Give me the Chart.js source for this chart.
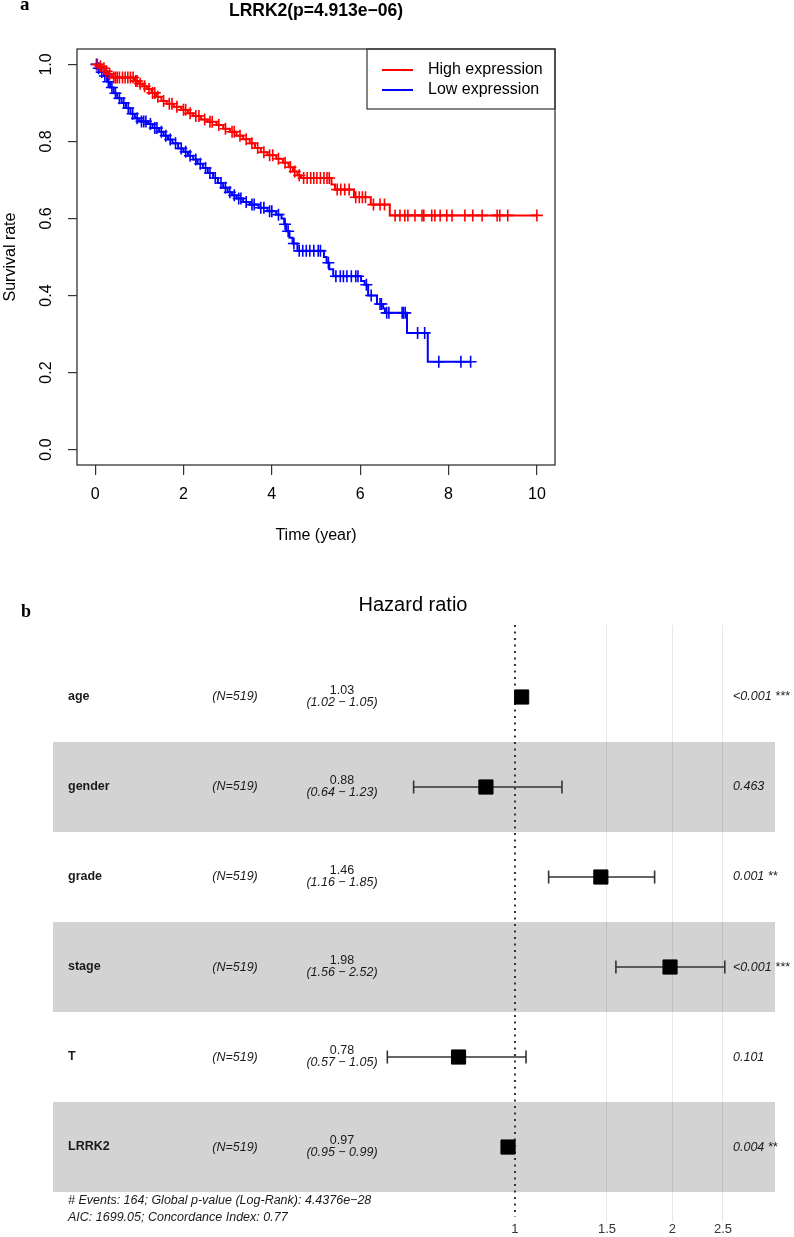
<!DOCTYPE html>
<html>
<head>
<meta charset="utf-8">
<script src="https://cdn.jsdelivr.net/npm/chart.js@4.4.1/dist/chart.umd.min.js"></script>
<style>
body { margin: 0; background: #fff; }
#km { position: absolute; left: 0; top: 0; }
#forest { position: absolute; left: 0; top: 590px; }
</style>
</head>
<body>
<canvas id="km" width="794" height="590"></canvas>
<canvas id="forest" width="794" height="647"></canvas>
<script>
/* panel a: Kaplan-Meier steps (time, survival after the drop) */
const highTime = [0, 0.08, 0.15, 0.22, 0.3, 0.38, 0.88, 0.98, 1.08, 1.18, 1.28, 1.38, 1.5, 1.62, 1.78, 1.95, 2.1, 2.22, 2.4, 2.55, 2.75, 2.9, 3.05, 3.2, 3.35, 3.5, 3.62, 3.75, 3.9, 4.1, 4.25, 4.38, 4.48, 4.58, 4.66, 5.35, 5.43, 5.86, 6.24, 6.67, 10.0]
const highSurv = [1, 0.995, 0.99, 0.982, 0.975, 0.966, 0.957, 0.95, 0.943, 0.936, 0.926, 0.916, 0.905, 0.898, 0.89, 0.882, 0.873, 0.866, 0.857, 0.851, 0.843, 0.833, 0.825, 0.815, 0.806, 0.795, 0.783, 0.772, 0.764, 0.755, 0.745, 0.733, 0.722, 0.712, 0.705, 0.688, 0.675, 0.655, 0.636, 0.608, 0.608]
const highCensor = [0.05, 0.12, 0.2, 0.26, 0.33, 0.42, 0.46, 0.5, 0.55, 0.62, 0.68, 0.74, 0.8, 0.86, 0.92, 0.95, 1.02, 1.12, 1.22, 1.3, 1.35, 1.42, 1.55, 1.68, 1.74, 1.85, 2.0, 2.05, 2.15, 2.28, 2.35, 2.48, 2.6, 2.65, 2.8, 2.95, 3.1, 3.15, 3.28, 3.42, 3.55, 3.68, 3.82, 3.95, 4.02, 4.15, 4.3, 4.42, 4.52, 4.62, 4.72, 4.8, 4.88, 4.95, 5.02, 5.1, 5.18, 5.25, 5.3, 5.48, 5.56, 5.65, 5.75, 5.9, 5.98, 6.05, 6.12, 6.3, 6.45, 6.55, 6.79, 6.9, 7.01, 7.08, 7.24, 7.4, 7.44, 7.62, 7.69, 7.81, 7.96, 8.08, 8.37, 8.55, 8.76, 9.1, 9.16, 9.34, 10.0]

const lowTime = [0, 0.05, 0.12, 0.2, 0.27, 0.34, 0.42, 0.5, 0.6, 0.7, 0.8, 0.9, 1.0, 1.2, 1.3, 1.45, 1.55, 1.65, 1.75, 1.88, 2.0, 2.1, 2.22, 2.32, 2.44, 2.55, 2.67, 2.78, 2.9, 3.0, 3.1, 3.2, 3.35, 3.5, 3.7, 3.9, 4.1, 4.22, 4.28, 4.33, 4.4, 4.47, 4.58, 5.18, 5.24, 5.3, 5.39, 6.02, 6.1, 6.18, 6.38, 6.52, 6.56, 7.06, 7.53, 8.5]
const lowSurv = [1, 0.99, 0.98, 0.97, 0.955, 0.94, 0.925, 0.912, 0.9, 0.887, 0.872, 0.86, 0.852, 0.845, 0.835, 0.825, 0.815, 0.805, 0.795, 0.782, 0.773, 0.763, 0.753, 0.742, 0.731, 0.718, 0.705, 0.692, 0.68, 0.668, 0.66, 0.652, 0.643, 0.636, 0.628, 0.619, 0.61, 0.6, 0.585, 0.567, 0.55, 0.535, 0.516, 0.5, 0.485, 0.468, 0.45, 0.438, 0.428, 0.4, 0.378, 0.366, 0.355, 0.303, 0.228, 0.228]
const lowCensor = [0.03, 0.08, 0.15, 0.22, 0.3, 0.38, 0.46, 0.55, 0.65, 0.75, 0.85, 0.95, 1.05, 1.1, 1.15, 1.25, 1.35, 1.4, 1.5, 1.6, 1.7, 1.82, 1.95, 2.05, 2.15, 2.28, 2.38, 2.5, 2.6, 2.72, 2.85, 2.95, 3.05, 3.15, 3.25, 3.3, 3.42, 3.55, 3.6, 3.75, 3.82, 3.95, 4.0, 4.15, 4.3, 4.37, 4.5, 4.62, 4.7, 4.78, 4.86, 4.95, 5.05, 5.1, 5.28, 5.45, 5.55, 5.62, 5.7, 5.8, 5.9, 5.95, 6.14, 6.25, 6.45, 6.48, 6.6, 6.65, 6.95, 6.98, 7.02, 7.3, 7.46, 7.78, 8.28, 8.5]

const kmXTicks = [0, 2, 4, 6, 8, 10]
const kmYTicks = [0, 0.2, 0.4, 0.6, 0.8, 1.0]

/* panel b: cox model */
const variables = ['age', 'gender', 'grade', 'stage', 'T', 'LRRK2']
const nPatients = [519, 519, 519, 519, 519, 519]
const hazard = [1.03, 0.88, 1.46, 1.98, 0.78, 0.97]
const ciLow = [1.02, 0.64, 1.16, 1.56, 0.57, 0.95]
const ciHigh = [1.05, 1.23, 1.85, 2.52, 1.05, 0.99]
const pLabels = ['<0.001 ***', '0.463', '0.001 **', '<0.001 ***', '0.101', '0.004 **']
const hrTicks = [1, 1.5, 2, 2.5]

const SANS = '"Liberation Sans", Arial, sans-serif'
Chart.defaults.font.family = SANS
Chart.defaults.color = '#000'

// survival value of the step curve at time t (for the censor marks)
const survAt = (times, surv, t) => {
    let s = surv[0]
    for (let i = 0; i < times.length; i++) {
        if (times[i] <= t) s = surv[i]
    }
    return s
}

const kmDecor = {
    id: 'kmDecor',
    afterDraw(chart) {
        const { ctx, chartArea: a, scales } = chart
        ctx.save()
        ctx.strokeStyle = '#333'
        ctx.lineWidth = 1.3
        ctx.strokeRect(a.left, a.top, a.right - a.left, a.bottom - a.top)

        // y tick labels, rotated like base R
        ctx.fillStyle = '#000'
        ctx.font = '16px ' + SANS
        ctx.textAlign = 'center'
        ctx.textBaseline = 'middle'
        scales.y.ticks.forEach(t => {
            const y = scales.y.getPixelForValue(t.value)
            ctx.save()
            ctx.translate(47, y)
            ctx.rotate(-Math.PI / 2)
            ctx.fillText(t.value.toFixed(1), 0, 0)
            ctx.restore()
        })
        ctx.save()
        ctx.translate(11, (a.top + a.bottom) / 2)
        ctx.rotate(-Math.PI / 2)
        ctx.fillText('Survival rate', 0, 0)
        ctx.restore()
        ctx.fillText('Time (year)', (a.left + a.right) / 2, 536)

        ctx.font = 'bold 17.5px ' + SANS
        ctx.textBaseline = 'alphabetic'
        ctx.fillText('LRRK2(p=4.913e\u221206)', (a.left + a.right) / 2, 15.5)

        ctx.font = 'bold 19px "Liberation Serif", "DejaVu Serif", serif'
        ctx.textAlign = 'left'
        ctx.fillText('a', 20, 10)

        // legend, top right inside the box
        const lw = 188, lh = 60
        const lx = a.right - lw, ly = a.top
        ctx.strokeStyle = '#333'
        ctx.lineWidth = 1.2
        ctx.strokeRect(lx, ly, lw, lh)
        ctx.font = '16px ' + SANS
        ctx.textBaseline = 'middle'
        chart.data.datasets.filter(d => d.label).forEach((d, i) => {
            const y = ly + 21 + i * 20
            ctx.strokeStyle = d.borderColor
            ctx.lineWidth = 2
            ctx.beginPath()
            ctx.moveTo(lx + 15, y)
            ctx.lineTo(lx + 46, y)
            ctx.stroke()
            ctx.fillText(d.label, lx + 61, y)
        })
        ctx.restore()
    }
}

const stepSet = (label, times, surv, color) => ({
    label,
    data: times.map((t, i) => ({ x: t, y: surv[i] })),
    showLine: true,
    stepped: true,
    borderColor: color,
    borderWidth: 2,
    pointRadius: 0
})
const censorSet = (cens, times, surv, color) => ({
    label: '',
    data: cens.map(t => ({ x: t, y: survAt(times, surv, t) })),
    showLine: false,
    pointStyle: 'cross',
    pointRadius: 6,
    pointBorderWidth: 1.6,
    borderColor: color,
    backgroundColor: color
})

const renderKM = () => {
    new Chart('km', {
        type: 'scatter',
        data: {
            datasets: [
                stepSet('High expression', highTime, highSurv, '#ff0000'),
                censorSet(highCensor, highTime, highSurv, '#ff0000'),
                stepSet('Low expression', lowTime, lowSurv, '#0000ff'),
                censorSet(lowCensor, lowTime, lowSurv, '#0000ff')
            ]
        },
        options: {
            responsive: false,
            devicePixelRatio: 1,
            animation: false,
            layout: { padding: { top: 49, right: 239, left: 0, bottom: 0 } },
            plugins: { legend: { display: false }, tooltip: { enabled: false } },
            scales: {
                x: {
                    type: 'linear', min: -0.41, max: 10.41,
                    afterBuildTicks: s => { s.ticks = kmXTicks.map(v => ({ value: v })) },
                    afterFit: s => { s.height = 125 },
                    grid: { drawOnChartArea: false, tickLength: 10, color: '#333', lineWidth: 1.2 },
                    border: { display: false },
                    ticks: { font: { size: 16 }, color: '#000', padding: 10, maxRotation: 0, autoSkip: false }
                },
                y: {
                    type: 'linear', min: -0.04, max: 1.04,
                    afterBuildTicks: s => { s.ticks = kmYTicks.map(v => ({ value: v })) },
                    afterFit: s => { s.width = 77 },
                    grid: { drawOnChartArea: false, tickLength: 9, color: '#333', lineWidth: 1.2 },
                    border: { display: false },
                    ticks: { display: false }
                }
            }
        },
        plugins: [kmDecor]
    })
}

const forestDecor = {
    id: 'forestDecor',
    beforeDraw(chart) {
        const { ctx, chartArea: a, scales } = chart
        ctx.save()
        ctx.fillStyle = '#d3d3d3'
        variables.forEach((v, i) => {
            if (i % 2 === 1) {
                const y0 = scales.y.getPixelForValue(i - 0.5)
                const y1 = scales.y.getPixelForValue(i + 0.5)
                ctx.fillRect(a.left, y0, a.right - a.left, y1 - y0)
            }
        })
        ctx.restore()
    },
    beforeDatasetsDraw(chart) {
        const { ctx, chartArea: a, scales } = chart
        const x = scales.x.getPixelForValue(1)
        ctx.save()
        ctx.strokeStyle = '#333'
        ctx.lineWidth = 2
        ctx.setLineDash([2, 4.5])
        ctx.beginPath()
        ctx.moveTo(x, a.top)
        ctx.lineTo(x, a.bottom - 5)
        ctx.stroke()
        ctx.restore()
    },
    afterDraw(chart) {
        const { ctx, scales } = chart
        ctx.save()
        ctx.fillStyle = '#1a1a1a'
        ctx.textBaseline = 'middle'
        variables.forEach((v, i) => {
            const y = scales.y.getPixelForValue(i)
            ctx.textAlign = 'left'
            ctx.font = 'bold 12.5px ' + SANS
            ctx.fillText(v, 68, y)
            ctx.font = 'italic 12.5px ' + SANS
            ctx.textAlign = 'center'
            ctx.fillText('(N=' + nPatients[i] + ')', 235, y)
            ctx.font = '12.5px ' + SANS
            ctx.fillText(hazard[i].toFixed(2), 342, y - 6)
            ctx.font = 'italic 12.5px ' + SANS
            ctx.fillText('(' + ciLow[i].toFixed(2) + ' \u2212 ' + ciHigh[i].toFixed(2) + ')', 342, y + 5.5)
            ctx.textAlign = 'left'
            ctx.fillText(pLabels[i], 733, y)
        })
        ctx.font = 'italic 12.5px ' + SANS
        ctx.fillText('# Events: 164; Global p-value (Log-Rank): 4.4376e\u221228', 68, 611)
        ctx.fillText('AIC: 1699.05; Concordance Index: 0.77', 68, 628)

        ctx.textAlign = 'center'
        ctx.fillStyle = '#000'
        ctx.font = '20px ' + SANS
        ctx.fillText('Hazard ratio', 413, 15)
        ctx.font = 'bold 18px "Liberation Serif", "DejaVu Serif", serif'
        ctx.textAlign = 'left'
        ctx.textBaseline = 'alphabetic'
        ctx.fillText('b', 21, 27)
        ctx.restore()
    }
}

const renderForest = () => {
    const whiskers = variables.map((v, i) => ({
        data: [{ x: ciLow[i], y: i }, { x: ciHigh[i], y: i }],
        showLine: true,
        borderColor: '#333',
        borderWidth: 1.6,
        pointStyle: 'line',
        pointRotation: 90,
        pointRadius: 6.5,
        pointBorderWidth: 1.6,
        pointBorderColor: '#333',
        order: 2
    }))
    const squares = {
        data: hazard.map((h, i) => ({ x: h, y: i })),
        showLine: false,
        pointStyle: 'rect',
        pointRadius: 10,
        pointBackgroundColor: '#000',
        pointBorderColor: '#000',
        pointBorderWidth: 1,
        order: 1
    }
    new Chart('forest', {
        type: 'scatter',
        data: { datasets: [squares, ...whiskers] },
        options: {
            responsive: false,
            devicePixelRatio: 1,
            animation: false,
            layout: { padding: { top: 35, right: 19, left: 53, bottom: 0 } },
            plugins: { legend: { display: false }, tooltip: { enabled: false } },
            scales: {
                x: {
                    type: 'logarithmic', min: 0.1307, max: 3.144,
                    afterBuildTicks: s => { s.ticks = hrTicks.map(v => ({ value: v })) },
                    afterFit: s => { s.height = 15 },
                    grid: {
                        drawTicks: false,
                        color: c => (c.tick && c.tick.value === 1) ? 'rgba(0,0,0,0)' : 'rgba(0,0,0,0.09)'
                    },
                    border: { display: false },
                    ticks: {
                        font: { size: 13 }, color: '#333', padding: 0, maxRotation: 0, autoSkip: false,
                        callback: v => String(v)
                    }
                },
                y: { type: 'linear', min: -0.8, max: 5.833, reverse: true, display: false }
            }
        },
        plugins: [forestDecor]
    })
}

renderKM()
renderForest()
</script>
</body>
</html>
